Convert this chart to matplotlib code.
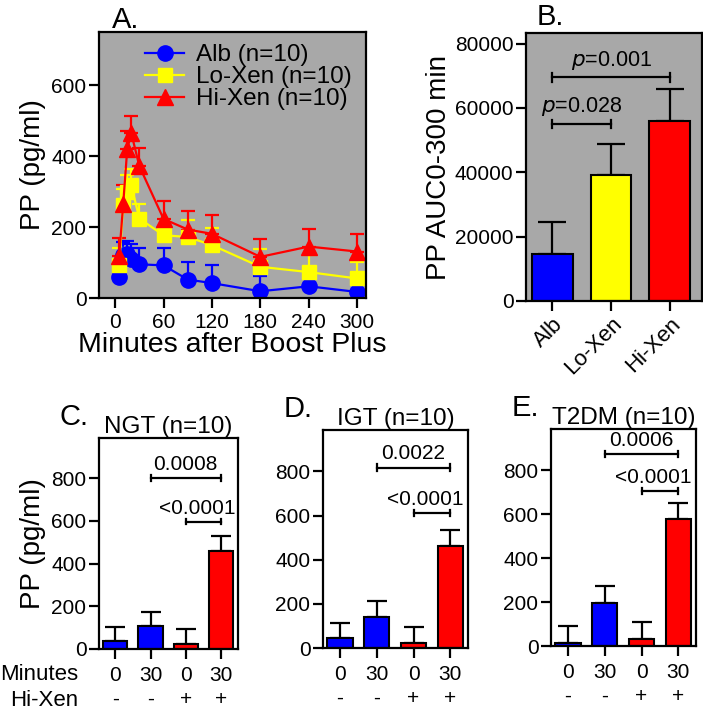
import matplotlib
matplotlib.use("Agg")
import matplotlib.pyplot as plt
from matplotlib.lines import Line2D

plt.rcParams["font.family"] = ["Liberation Sans", "DejaVu Sans"]

# panel A: time course
times = [5, 10, 15, 20, 30, 60, 90, 120, 180, 240, 300]
alb_mean = [58, 120, 125, 111, 95, 92, 52, 42, 19, 33, 17]
alb_sem = [40, 38, 35, 42, 47, 49, 50, 50, 44, 40, 35]
lo_mean = [92, 261, 300, 318, 224, 177, 172, 149, 88, 73, 55]
lo_sem = [50, 45, 47, 47, 42, 45, 47, 47, 50, 47, 47]
hi_mean = [118, 265, 420, 465, 372, 223, 193, 181, 116, 145, 131]
hi_sem = [52, 55, 50, 49, 51, 50, 52, 52, 50, 50, 50]

# panel B: AUC
auc_groups = ["Alb", "Lo-Xen", "Hi-Xen"]
auc_mean = [14500, 39300, 55900]
auc_sem = [9900, 9600, 9900]

# panels C-E
minutes = ["0", "30", "0", "30"]
hixen = ["-", "-", "+", "+"]
ngt_mean = [37, 108, 23, 460]
ngt_sem = [68, 67, 69, 70]
igt_mean = [44, 140, 24, 464]
igt_sem = [71, 75, 73, 73]
t2dm_mean = [15, 197, 33, 576]
t2dm_sem = [77, 77, 75, 77]

blue, yellow, red, grey = "#0000ff", "#ffff00", "#ff0000", "#a8a8a8"

fig = plt.figure(figsize=(7.03, 7.10), dpi=100)


def style(ax, fs=15):
    for s in ax.spines.values():
        s.set_linewidth(1.6)
    ax.tick_params(direction="out", length=7, width=1.6, labelsize=fs, pad=2)


def bracket(ax, x1, x2, y, txt, tx=None, cap=14):
    ax.plot([x1, x2], [y, y], color="black", lw=1.6)
    for x in (x1, x2):
        ax.plot([x, x], [y - cap, y + cap], color="black", lw=1.6)
    if tx is None:
        tx = (x1 + x2) / 2
    ax.text(tx, y + cap * 1.3, txt, ha="center", va="bottom", fontsize=15)


# ---- A ----
axA = fig.add_axes([99 / 703, 1 - 298 / 710, 267 / 703, 266 / 710])
axA.set_facecolor(grey)
handles = []
for mean, sem, col, mk, ms, lab in [
    (alb_mean, alb_sem, blue, "o", 11, "Alb (n=10)"),
    (lo_mean, lo_sem, yellow, "s", 10, "Lo-Xen (n=10)"),
    (hi_mean, hi_sem, red, "^", 11, "Hi-Xen (n=10)"),
]:
    axA.errorbar(times, mean, yerr=[[0] * len(sem), sem], color=col, marker=mk,
                 ms=ms, lw=1.6, elinewidth=1.6, capsize=5, capthick=1.6)
    handles.append(Line2D([], [], color=col, marker=mk, ms=ms, lw=1.6, label=lab))
axA.set_xlim(-20, 311)
axA.set_ylim(0, 750)
axA.set_xticks([0, 60, 120, 180, 240, 300])
axA.set_yticks([0, 200, 400, 600])
style(axA)
axA.tick_params(axis="x", pad=4)
axA.set_xlabel("Minutes after Boost Plus", fontsize=20.5, labelpad=0)
axA.set_ylabel("PP (pg/ml)", fontsize=20, labelpad=4)
axA.legend(handles=handles, loc="upper center", frameon=False, fontsize=17.5,
           labelspacing=0.0, handlelength=1.6, handletextpad=0.5, borderaxespad=0.1,
           bbox_to_anchor=(0.56, 1.0))
fig.text(112 / 703, 1 - 28 / 710, "A.", fontsize=21, ha="left", va="baseline")

# ---- B ----
axB = fig.add_axes([526 / 703, 1 - 301 / 710, 176 / 703, 268 / 710])
axB.set_facecolor(grey)
xb = range(len(auc_groups))
axB.bar(xb, auc_mean, width=0.69, color=[blue, yellow, red], edgecolor="black",
        linewidth=1.5, zorder=2)
axB.errorbar(xb, auc_mean, yerr=[[0] * 3, auc_sem], fmt="none", ecolor="black",
             elinewidth=1.6, capsize=10, capthick=1.6, zorder=1)
axB.set_xlim(-0.45, 2.55)
axB.set_ylim(0, 83300)
axB.set_yticks([0, 20000, 40000, 60000, 80000])
axB.set_xticks(list(xb))
axB.set_xticklabels(auc_groups, rotation=45, ha="right", rotation_mode="anchor")
style(axB)
axB.tick_params(axis="x", labelsize=16)
axB.set_ylabel("PP AUC0-300 min", fontsize=20, labelpad=2)
for x1, x2, y, p in [(0, 1, 55000, "0.028"), (0, 2, 69500, "0.001")]:
    axB.plot([x1, x2], [y, y], color="black", lw=1.6)
    for x in (x1, x2):
        axB.plot([x, x], [y - 1300, y + 1300], color="black", lw=1.6)
    axB.text((x1 + x2) / 2, y + 1800, r"$\it{p}$=" + p, ha="center", va="bottom", fontsize=15.5)
fig.text(537 / 703, 1 - 25 / 710, "B.", fontsize=21, ha="left", va="baseline")

# ---- C, D, E ----
panels = [
    ("C.", "NGT (n=10)", ngt_mean, ngt_sem, [99, 238, 438, 649], 802, "0.0008", 597),
    ("D.", "IGT (n=10)", igt_mean, igt_sem, [323, 468, 430, 648], 818, "0.0022", 610),
    ("E.", "T2DM (n=10)", t2dm_mean, t2dm_sem, [551, 696, 429, 646], 876, "0.0006", 706),
]
for letter, title, mean, sem, (l, r, t, b), y1, p1, y2 in panels:
    ax = fig.add_axes([l / 703, 1 - b / 710, (r - l) / 703, (b - t) / 710])
    x = range(4)
    ax.bar(x, mean, width=0.69, color=[blue, blue, red, red], edgecolor="black",
           linewidth=1.5, zorder=2)
    ax.errorbar(x, mean, yerr=[[0] * 4, sem], fmt="none", ecolor="black",
                elinewidth=1.6, capsize=7, capthick=1.6, zorder=1)
    ax.set_xlim(-0.46, 3.48)
    ax.set_ylim(0, 988)
    ax.set_yticks([0, 200, 400, 600, 800])
    ax.set_xticks(list(x))
    ax.set_xticklabels([f"{m}\n{h}" for m, h in zip(minutes, hixen)], linespacing=1.35)
    style(ax)
    ax.tick_params(axis="x", pad=5)
    ax.set_title(title, fontsize=17.5, pad=3)
    bracket(ax, 1, 3, y1, p1)
    bracket(ax, 2, 3, y2, "<0.0001", tx=2.32)
    fig.text((l - 39) / 703, 1 - (t - 13) / 710, letter, fontsize=21, ha="left", va="baseline")
    if letter == "C.":
        ax.set_ylabel("PP (pg/ml)", fontsize=20, labelpad=4)

fig.text(78 / 703, 1 - 674 / 710, "Minutes", fontsize=16, ha="right", va="center")
fig.text(78 / 703, 1 - 700 / 710, "Hi-Xen", fontsize=16, ha="right", va="center")

fig.savefig("out.png", dpi=100)
